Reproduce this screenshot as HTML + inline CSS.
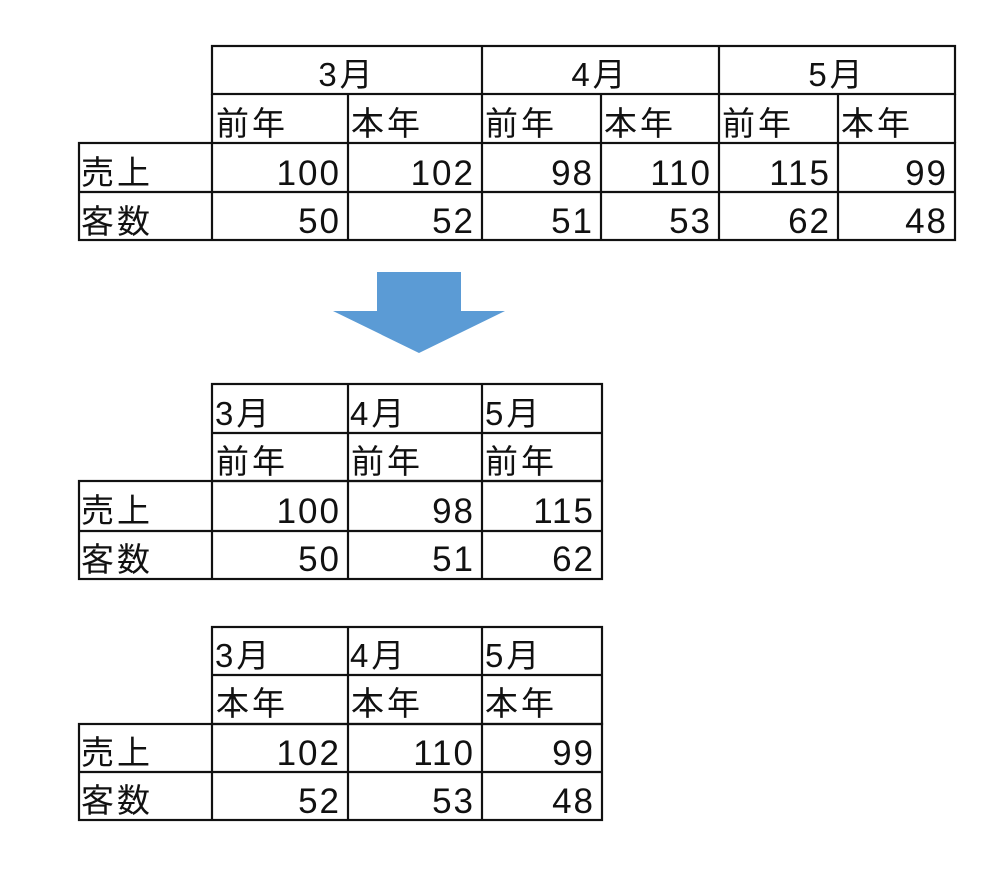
<!DOCTYPE html>
<html><head><meta charset="utf-8"><style>
html,body{margin:0;padding:0;background:#fff;}
svg{display:block;}
text{font-family:"Liberation Sans","Noto Sans CJK JP",sans-serif;font-size:33px;fill:#111;}
.n{font-size:35px;letter-spacing:2px;text-anchor:end;}
.j{letter-spacing:3px;}
</style></head><body>
<svg width="999" height="871" viewBox="0 0 999 871" xmlns="http://www.w3.org/2000/svg">
<g stroke="#111" stroke-width="2.2" fill="none">
<rect x="212" y="46" width="743" height="48"/>
<rect x="79" y="143" width="876" height="97"/>
<line x1="212" y1="94" x2="212" y2="143"/>
<line x1="955" y1="94" x2="955" y2="143"/>
<line x1="79" y1="192" x2="955" y2="192"/>
<line x1="212" y1="143" x2="212" y2="240"/>
<line x1="348" y1="94" x2="348" y2="240"/>
<line x1="482" y1="46" x2="482" y2="240"/>
<line x1="601" y1="94" x2="601" y2="240"/>
<line x1="719" y1="46" x2="719" y2="240"/>
<line x1="838" y1="94" x2="838" y2="240"/>
<rect x="212" y="384" width="390" height="97"/>
<rect x="79" y="481" width="523" height="98"/>
<line x1="212" y1="433" x2="602" y2="433"/>
<line x1="79" y1="531" x2="602" y2="531"/>
<line x1="212" y1="481" x2="212" y2="579"/>
<line x1="348" y1="384" x2="348" y2="579"/>
<line x1="482" y1="384" x2="482" y2="579"/>
<rect x="212" y="627" width="390" height="97"/>
<rect x="79" y="724" width="523" height="96"/>
<line x1="212" y1="675" x2="602" y2="675"/>
<line x1="79" y1="772" x2="602" y2="772"/>
<line x1="212" y1="724" x2="212" y2="820"/>
<line x1="348" y1="627" x2="348" y2="820"/>
<line x1="482" y1="627" x2="482" y2="820"/>
</g>
<polygon points="377,272 461,272 461,311 505,311 419,353 333,311 377,311" fill="#5b9bd5"/>

<text x="347" y="86" text-anchor="middle" class="j">3月</text>
<text x="600" y="86" text-anchor="middle" class="j">4月</text>
<text x="837" y="86" text-anchor="middle" class="j">5月</text>
<text x="216" y="135" class="j">前年</text>
<text x="351" y="135" class="j">本年</text>
<text x="485" y="135" class="j">前年</text>
<text x="604" y="135" class="j">本年</text>
<text x="722" y="135" class="j">前年</text>
<text x="841" y="135" class="j">本年</text>
<text x="81" y="184" class="j">売上</text>
<text x="81" y="233" class="j">客数</text>
<text x="341" y="185" class="n">100</text>
<text x="475" y="185" class="n">102</text>
<text x="594" y="185" class="n">98</text>
<text x="712" y="185" class="n">110</text>
<text x="831" y="185" class="n">115</text>
<text x="948" y="185" class="n">99</text>
<text x="341" y="233" class="n">50</text>
<text x="475" y="233" class="n">52</text>
<text x="594" y="233" class="n">51</text>
<text x="712" y="233" class="n">53</text>
<text x="831" y="233" class="n">62</text>
<text x="948" y="233" class="n">48</text>

<text x="215" y="425" class="j">3月</text>
<text x="350" y="425" class="j">4月</text>
<text x="485" y="425" class="j">5月</text>
<text x="216" y="473" class="j">前年</text>
<text x="351" y="473" class="j">前年</text>
<text x="485" y="473" class="j">前年</text>
<text x="81" y="522" class="j">売上</text>
<text x="81" y="571" class="j">客数</text>
<text x="341" y="523" class="n">100</text>
<text x="475" y="523" class="n">98</text>
<text x="595" y="523" class="n">115</text>
<text x="341" y="571" class="n">50</text>
<text x="475" y="571" class="n">51</text>
<text x="595" y="571" class="n">62</text>

<text x="215" y="667" class="j">3月</text>
<text x="350" y="667" class="j">4月</text>
<text x="485" y="667" class="j">5月</text>
<text x="216" y="715" class="j">本年</text>
<text x="351" y="715" class="j">本年</text>
<text x="485" y="715" class="j">本年</text>
<text x="81" y="764" class="j">売上</text>
<text x="81" y="812" class="j">客数</text>
<text x="341" y="765" class="n">102</text>
<text x="475" y="765" class="n">110</text>
<text x="595" y="765" class="n">99</text>
<text x="341" y="813" class="n">52</text>
<text x="475" y="813" class="n">53</text>
<text x="595" y="813" class="n">48</text>
</svg>
</body></html>
